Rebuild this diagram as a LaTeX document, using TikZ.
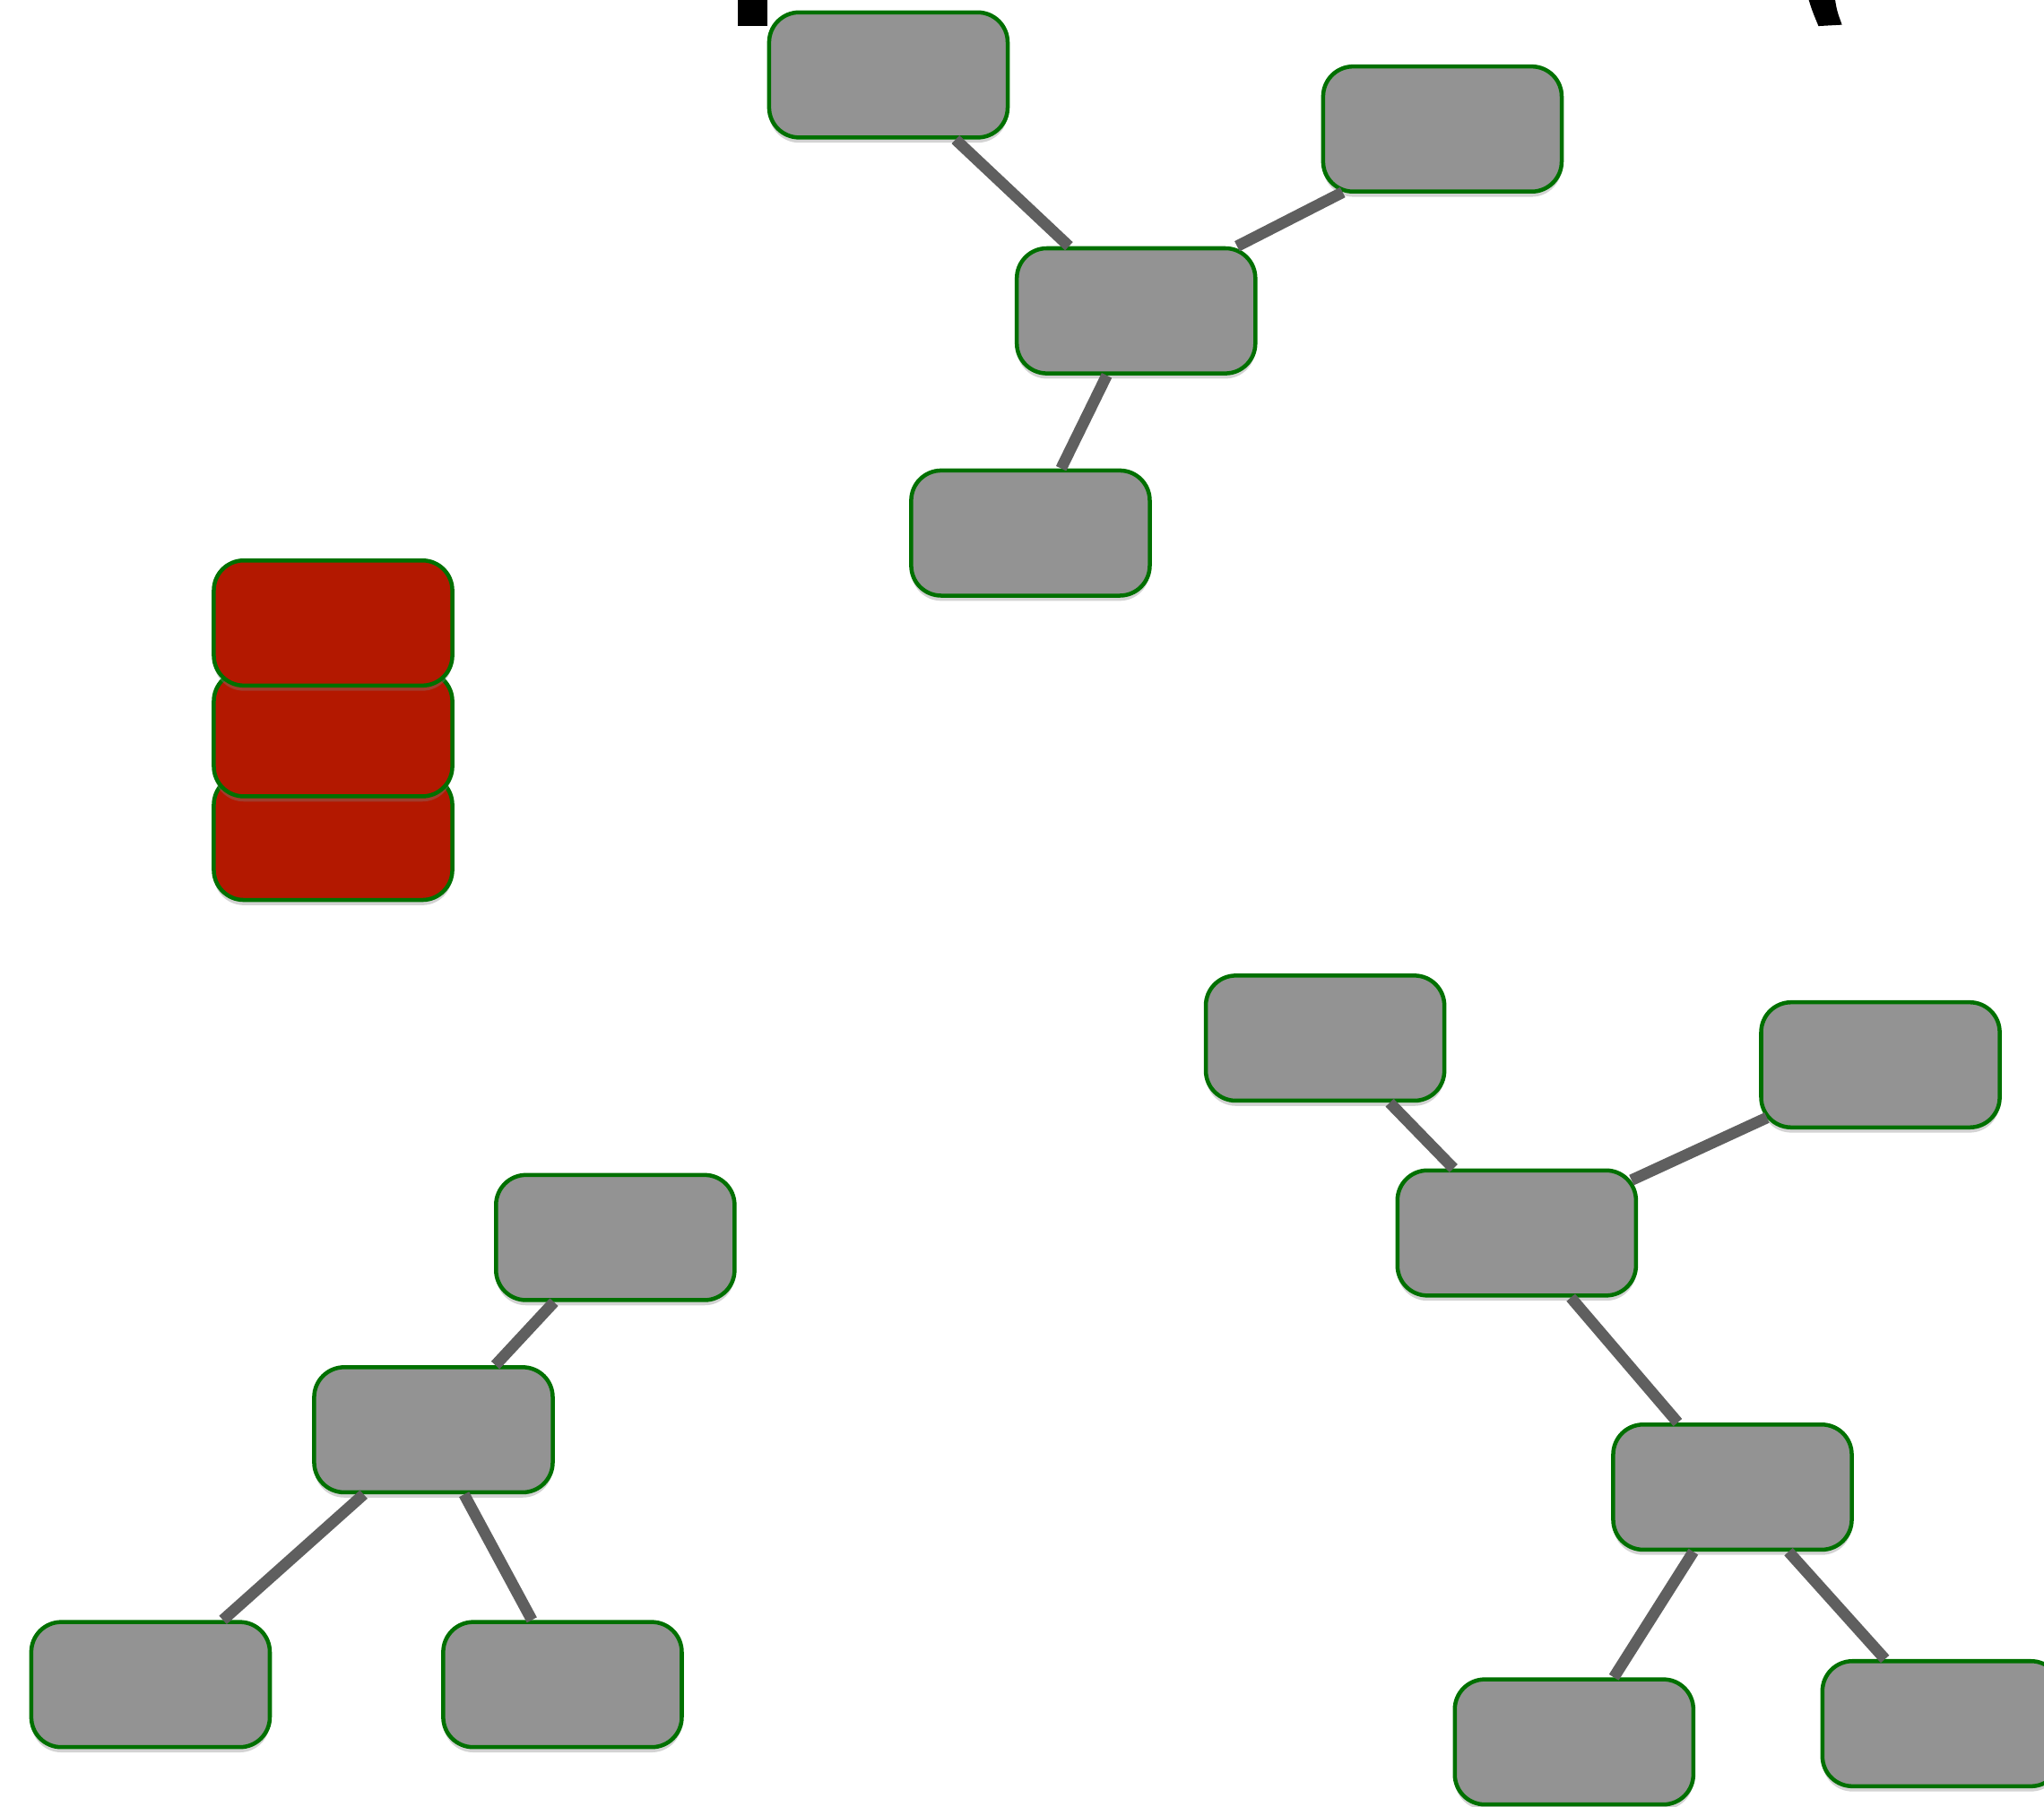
\documentclass[tikz,border=0pt]{standalone}
\usepackage{xcolor}
\usepackage{tikz}
\usetikzlibrary{shadows}
\definecolor{boxgray}{RGB}{147,147,147}
\definecolor{boxgreen}{RGB}{0,112,0}
\definecolor{stackred}{RGB}{179,24,0}
\definecolor{linkgray}{RGB}{95,95,95}

\begin{document}
\begin{tikzpicture}[
    box/.style={rectangle, rounded corners=0.23cm, draw=boxgreen, line width=0.031cm,
        fill=boxgray, minimum width=1.83cm, minimum height=0.96cm, inner sep=0pt,
        drop shadow={shadow xshift=0cm, shadow yshift=-0.04cm, opacity=0.35}},
    redbox/.style={box, fill=stackred},
    link/.style={draw=linkgray, line width=0.087cm}
]
    \useasboundingbox (0,0) rectangle (15.68,-13.86);
    % Cut-off glyphs at the top edge
    \fill[black] (5.66,0.05) rectangle (5.89,-0.20);
    \fill[black] (13.86,0.05) -- (14.07,0.05) .. controls (14.09,-0.08) .. (14.13,-0.19)
        -- (13.95,-0.20) .. controls (13.90,-0.08) .. (13.86,0.05) -- cycle;
    % Top tree
    \node[box] (ta) at (6.815,-0.575) {};
    \node[box] (tb) at (11.065,-0.99) {};
    \node[box] (tc) at (8.715,-2.385) {};
    \node[box] (td) at (7.905,-4.09) {};
    \draw[link] ([xshift=0.515cm]ta.south) -- ([xshift=-0.515cm]tc.north);
    \draw[link] ([xshift=-0.765cm, yshift=0.01cm]tb.south) -- ([xshift=0.775cm]tc.north);
    \draw[link] ([xshift=-0.225cm]tc.south) -- ([xshift=0.235cm]td.north);
    % Red stack
    \node[redbox] (s3) at (2.555,-6.425) {};
    \node[redbox] (s2) at (2.555,-5.63) {};
    \node[redbox] (s1) at (2.555,-4.78) {};
    % Bottom left tree
    \node[box] (la) at (4.72,-9.495) {};
    \node[box] (lb) at (3.325,-10.97) {};
    \node[box] (lc) at (1.155,-12.925) {};
    \node[box] (ld) at (4.315,-12.925) {};
    \draw[link] ([xshift=-0.47cm]la.south) -- ([xshift=0.475cm]lb.north);
    \draw[link] ([xshift=-0.535cm]lb.south) -- ([xshift=0.555cm]lc.north);
    \draw[link] ([xshift=0.235cm]lb.south) -- ([xshift=-0.235cm]ld.north);
    % Bottom right tree
    \node[box] (ra) at (10.165,-7.965) {};
    \node[box] (rb) at (14.425,-8.17) {};
    \node[box] (rc) at (11.635,-9.46) {};
    \node[box] (rd) at (13.29,-11.41) {};
    \node[box] (re) at (12.075,-13.365) {};
    \node[box] (rf) at (14.895,-13.225) {};
    \draw[link] ([xshift=0.495cm]ra.south) -- ([xshift=-0.485cm]rc.north);
    \draw[link] ([xshift=0.06cm, yshift=0.09cm]rb.south west) -- ([xshift=-0.05cm, yshift=-0.09cm]rc.north east);
    \draw[link] ([xshift=0.415cm]rc.south) -- ([xshift=-0.42cm]rd.north);
    \draw[link] ([xshift=-0.30cm]rd.south) -- ([xshift=0.305cm]re.north);
    \draw[link] ([xshift=0.43cm]rd.south) -- ([xshift=-0.435cm]rf.north);
\end{tikzpicture}
\end{document}
